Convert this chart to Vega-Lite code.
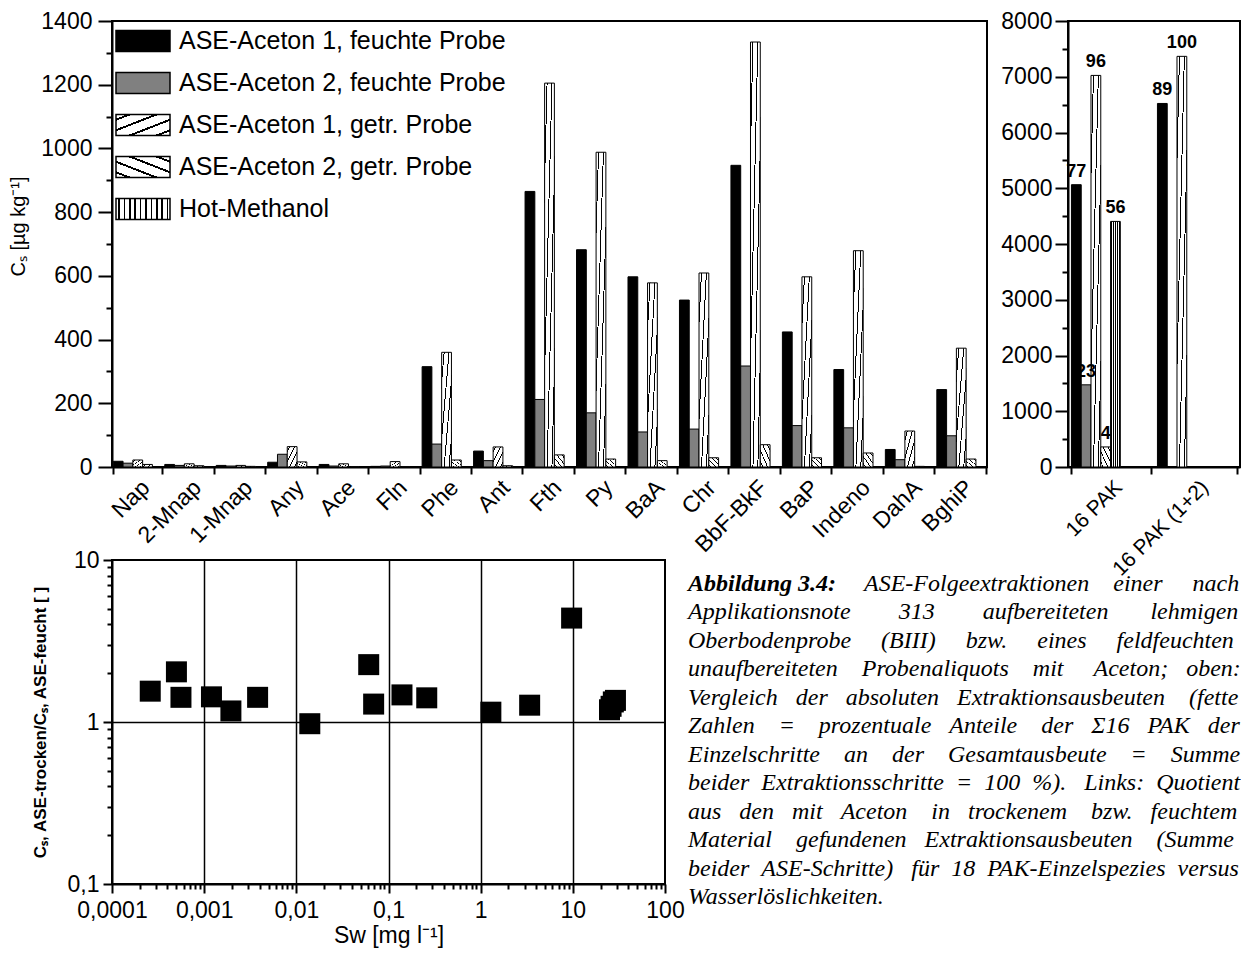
{
  "$schema": "https://vega.github.io/schema/vega-lite/v6.json",
  "autosize": {"type": "none"},
  "padding": {"left": 112, "top": 21, "right": 1129, "bottom": 934},
  "background": "white",
  "config": {
    "font": "Liberation Sans",
    "view": {"stroke": "black", "strokeWidth": 2},
    "axis": {"domainColor": "black", "domainWidth": 2, "tickColor": "black", "tickWidth": 2, "labelColor": "black", "labelFont": "Liberation Sans", "labelFontSize": 23, "titleColor": "black", "titleFont": "Liberation Sans", "grid": false, "labelFlush": false, "labelOverlap": false},
    "legend": {"symbolStrokeColor": "black", "symbolStrokeWidth": 1.5}
  },
  "datasets": {
    "bars": [
      {"cat": "Nap", "series": "ASE-Aceton 1, feuchte Probe", "value": 18},
      {"cat": "Nap", "series": "ASE-Aceton 2, feuchte Probe", "value": 12},
      {"cat": "Nap", "series": "ASE-Aceton 1, getr. Probe", "value": 22},
      {"cat": "Nap", "series": "ASE-Aceton 2, getr. Probe", "value": 8},
      {"cat": "2-Mnap", "series": "ASE-Aceton 1, feuchte Probe", "value": 8},
      {"cat": "2-Mnap", "series": "ASE-Aceton 2, feuchte Probe", "value": 5},
      {"cat": "2-Mnap", "series": "ASE-Aceton 1, getr. Probe", "value": 10},
      {"cat": "2-Mnap", "series": "ASE-Aceton 2, getr. Probe", "value": 4},
      {"cat": "1-Mnap", "series": "ASE-Aceton 1, feuchte Probe", "value": 5},
      {"cat": "1-Mnap", "series": "ASE-Aceton 2, feuchte Probe", "value": 3},
      {"cat": "1-Mnap", "series": "ASE-Aceton 1, getr. Probe", "value": 5},
      {"cat": "1-Mnap", "series": "ASE-Aceton 2, getr. Probe", "value": 2},
      {"cat": "Any", "series": "ASE-Aceton 1, feuchte Probe", "value": 15},
      {"cat": "Any", "series": "ASE-Aceton 2, feuchte Probe", "value": 40},
      {"cat": "Any", "series": "ASE-Aceton 1, getr. Probe", "value": 64},
      {"cat": "Any", "series": "ASE-Aceton 2, getr. Probe", "value": 16},
      {"cat": "Ace", "series": "ASE-Aceton 1, feuchte Probe", "value": 8},
      {"cat": "Ace", "series": "ASE-Aceton 2, feuchte Probe", "value": 3},
      {"cat": "Ace", "series": "ASE-Aceton 1, getr. Probe", "value": 10},
      {"cat": "Ace", "series": "ASE-Aceton 2, getr. Probe", "value": 1},
      {"cat": "Fln", "series": "ASE-Aceton 1, feuchte Probe", "value": 2},
      {"cat": "Fln", "series": "ASE-Aceton 2, feuchte Probe", "value": 3},
      {"cat": "Fln", "series": "ASE-Aceton 1, getr. Probe", "value": 17},
      {"cat": "Fln", "series": "ASE-Aceton 2, getr. Probe", "value": 1},
      {"cat": "Phe", "series": "ASE-Aceton 1, feuchte Probe", "value": 315},
      {"cat": "Phe", "series": "ASE-Aceton 2, feuchte Probe", "value": 72},
      {"cat": "Phe", "series": "ASE-Aceton 1, getr. Probe", "value": 360},
      {"cat": "Phe", "series": "ASE-Aceton 2, getr. Probe", "value": 22},
      {"cat": "Ant", "series": "ASE-Aceton 1, feuchte Probe", "value": 50},
      {"cat": "Ant", "series": "ASE-Aceton 2, feuchte Probe", "value": 20},
      {"cat": "Ant", "series": "ASE-Aceton 1, getr. Probe", "value": 63},
      {"cat": "Ant", "series": "ASE-Aceton 2, getr. Probe", "value": 4},
      {"cat": "Fth", "series": "ASE-Aceton 1, feuchte Probe", "value": 865},
      {"cat": "Fth", "series": "ASE-Aceton 2, feuchte Probe", "value": 212},
      {"cat": "Fth", "series": "ASE-Aceton 1, getr. Probe", "value": 1205},
      {"cat": "Fth", "series": "ASE-Aceton 2, getr. Probe", "value": 38},
      {"cat": "Py", "series": "ASE-Aceton 1, feuchte Probe", "value": 682},
      {"cat": "Py", "series": "ASE-Aceton 2, feuchte Probe", "value": 170},
      {"cat": "Py", "series": "ASE-Aceton 1, getr. Probe", "value": 988},
      {"cat": "Py", "series": "ASE-Aceton 2, getr. Probe", "value": 25},
      {"cat": "BaA", "series": "ASE-Aceton 1, feuchte Probe", "value": 597},
      {"cat": "BaA", "series": "ASE-Aceton 2, feuchte Probe", "value": 110},
      {"cat": "BaA", "series": "ASE-Aceton 1, getr. Probe", "value": 578},
      {"cat": "BaA", "series": "ASE-Aceton 2, getr. Probe", "value": 20},
      {"cat": "Chr", "series": "ASE-Aceton 1, feuchte Probe", "value": 524},
      {"cat": "Chr", "series": "ASE-Aceton 2, feuchte Probe", "value": 119},
      {"cat": "Chr", "series": "ASE-Aceton 1, getr. Probe", "value": 609},
      {"cat": "Chr", "series": "ASE-Aceton 2, getr. Probe", "value": 29},
      {"cat": "BbF-BkF", "series": "ASE-Aceton 1, feuchte Probe", "value": 947},
      {"cat": "BbF-BkF", "series": "ASE-Aceton 2, feuchte Probe", "value": 317},
      {"cat": "BbF-BkF", "series": "ASE-Aceton 1, getr. Probe", "value": 1334},
      {"cat": "BbF-BkF", "series": "ASE-Aceton 2, getr. Probe", "value": 70},
      {"cat": "BaP", "series": "ASE-Aceton 1, feuchte Probe", "value": 424},
      {"cat": "BaP", "series": "ASE-Aceton 2, feuchte Probe", "value": 130},
      {"cat": "BaP", "series": "ASE-Aceton 1, getr. Probe", "value": 597},
      {"cat": "BaP", "series": "ASE-Aceton 2, getr. Probe", "value": 29},
      {"cat": "Indeno", "series": "ASE-Aceton 1, feuchte Probe", "value": 306},
      {"cat": "Indeno", "series": "ASE-Aceton 2, feuchte Probe", "value": 123},
      {"cat": "Indeno", "series": "ASE-Aceton 1, getr. Probe", "value": 679},
      {"cat": "Indeno", "series": "ASE-Aceton 2, getr. Probe", "value": 44},
      {"cat": "DahA", "series": "ASE-Aceton 1, feuchte Probe", "value": 55},
      {"cat": "DahA", "series": "ASE-Aceton 2, feuchte Probe", "value": 23},
      {"cat": "DahA", "series": "ASE-Aceton 1, getr. Probe", "value": 113},
      {"cat": "DahA", "series": "ASE-Aceton 2, getr. Probe", "value": 2},
      {"cat": "BghiP", "series": "ASE-Aceton 1, feuchte Probe", "value": 243},
      {"cat": "BghiP", "series": "ASE-Aceton 2, feuchte Probe", "value": 98},
      {"cat": "BghiP", "series": "ASE-Aceton 1, getr. Probe", "value": 373},
      {"cat": "BghiP", "series": "ASE-Aceton 2, getr. Probe", "value": 25}
    ],
    "totals": [
      {"group": "16 PAK", "series": "ASE-Aceton 1, feuchte Probe", "value": 5064, "pct": 77},
      {"group": "16 PAK", "series": "ASE-Aceton 2, feuchte Probe", "value": 1474, "pct": 23},
      {"group": "16 PAK", "series": "ASE-Aceton 1, getr. Probe", "value": 7024, "pct": 96},
      {"group": "16 PAK", "series": "ASE-Aceton 2, getr. Probe", "value": 360, "pct": 4},
      {"group": "16 PAK", "series": "Hot-Methanol", "value": 4405, "pct": 56},
      {"group": "16 PAK (1+2)", "series": "ASE-Aceton 1, feuchte Probe", "value": 6521, "pct": 89},
      {"group": "16 PAK (1+2)", "series": "ASE-Aceton 1, getr. Probe", "value": 7366, "pct": 100}
    ],
    "ratio": [
      {"sw": 0.00026, "r": 1.55},
      {"sw": 0.0005, "r": 2.04},
      {"sw": 0.00056, "r": 1.42},
      {"sw": 0.0012, "r": 1.43},
      {"sw": 0.00195, "r": 1.17},
      {"sw": 0.0038, "r": 1.42},
      {"sw": 0.014, "r": 0.976},
      {"sw": 0.061, "r": 2.26},
      {"sw": 0.069, "r": 1.29},
      {"sw": 0.14, "r": 1.47},
      {"sw": 0.26, "r": 1.41},
      {"sw": 1.29, "r": 1.15},
      {"sw": 3.4, "r": 1.27},
      {"sw": 9.7, "r": 4.38},
      {"sw": 25, "r": 1.19},
      {"sw": 26, "r": 1.25},
      {"sw": 27.5, "r": 1.33},
      {"sw": 29, "r": 1.36}
    ],
    "caption": [
      {"line": 1, "bold": "Abbildung 3.4:", "rest": "ASE-Folgeextraktionen\u00a0\u00a0\u00a0\u00a0einer\u00a0\u00a0\u00a0\u00a0\u00a0nach"},
      {"line": 2, "text": "Applikationsnote\u00a0\u00a0\u00a0\u00a0\u00a0\u00a0\u00a0\u00a0313\u00a0\u00a0\u00a0\u00a0\u00a0\u00a0\u00a0\u00a0aufbereiteten\u00a0\u00a0\u00a0\u00a0\u00a0\u00a0\u00a0lehmigen"},
      {"line": 3, "text": "Oberbodenprobe\u00a0\u00a0\u00a0\u00a0\u00a0(BIII)\u00a0\u00a0\u00a0\u00a0\u00a0bzw.\u00a0\u00a0\u00a0\u00a0\u00a0eines\u00a0\u00a0\u00a0\u00a0\u00a0feldfeuchten"},
      {"line": 4, "text": "unaufbereiteten\u00a0\u00a0\u00a0\u00a0Probenaliquots\u00a0\u00a0\u00a0\u00a0mit\u00a0\u00a0\u00a0\u00a0\u00a0Aceton;\u00a0\u00a0\u00a0oben:"},
      {"line": 5, "text": "Vergleich\u00a0\u00a0\u00a0der\u00a0\u00a0\u00a0absoluten\u00a0\u00a0\u00a0Extraktionsausbeuten\u00a0\u00a0\u00a0\u00a0(fette"},
      {"line": 6, "text": "Zahlen\u00a0\u00a0\u00a0\u00a0=\u00a0\u00a0\u00a0\u00a0prozentuale\u00a0\u00a0\u00a0Anteile\u00a0\u00a0\u00a0\u00a0der\u00a0\u00a0\u00a0Σ16\u00a0\u00a0\u00a0PAK\u00a0\u00a0\u00a0der"},
      {"line": 7, "text": "Einzelschritte\u00a0\u00a0\u00a0\u00a0an\u00a0\u00a0\u00a0\u00a0der\u00a0\u00a0\u00a0\u00a0Gesamtausbeute\u00a0\u00a0\u00a0\u00a0=\u00a0\u00a0\u00a0\u00a0Summe"},
      {"line": 8, "text": "beider\u00a0\u00a0Extraktionsschritte\u00a0\u00a0=\u00a0\u00a0100\u00a0\u00a0%).\u00a0\u00a0\u00a0Links:\u00a0\u00a0Quotient"},
      {"line": 9, "text": "aus\u00a0\u00a0\u00a0den\u00a0\u00a0\u00a0mit\u00a0\u00a0\u00a0Aceton\u00a0\u00a0\u00a0\u00a0in\u00a0\u00a0\u00a0trockenem\u00a0\u00a0\u00a0\u00a0bzw.\u00a0\u00a0\u00a0feuchtem"},
      {"line": 10, "text": "Material\u00a0\u00a0\u00a0\u00a0gefundenen\u00a0\u00a0\u00a0Extraktionsausbeuten\u00a0\u00a0\u00a0\u00a0(Summe"},
      {"line": 11, "text": "beider\u00a0\u00a0ASE-Schritte)\u00a0\u00a0\u00a0für\u00a0\u00a018\u00a0\u00a0PAK-Einzelspezies\u00a0\u00a0versus"},
      {"line": 12, "text": "Wasserlöslichkeiten."}
    ]
  },
  "columns": 2,
  "align": "none",
  "bounds": "flush",
  "spacing": {"row": 93, "column": 81},
  "resolve": {"scale": {"fill": "independent"}, "legend": {"fill": "independent"}},
  "concat": [
    {
      "width": 875,
      "height": 446,
      "data": {"name": "bars"},
      "mark": {"type": "bar", "stroke": "black", "strokeWidth": 1},
      "encoding": {
        "x": {
          "field": "cat", "type": "nominal",
          "sort": ["Nap", "2-Mnap", "1-Mnap", "Any", "Ace", "Fln", "Phe", "Ant", "Fth", "Py", "BaA", "Chr", "BbF-BkF", "BaP", "Indeno", "DahA", "BghiP"],
          "scale": {"paddingInner": 0.05, "paddingOuter": 0.025},
          "axis": {"title": null, "tickBand": "extent", "labelAngle": -45, "labelAlign": "right", "labelBaseline": "top", "tickSize": 7, "labelPadding": 2}
        },
        "xOffset": {
          "field": "series", "type": "nominal",
          "scale": {"domain": ["ASE-Aceton 1, feuchte Probe", "ASE-Aceton 2, feuchte Probe", "ASE-Aceton 1, getr. Probe", "ASE-Aceton 2, getr. Probe"]}
        },
        "y": {
          "field": "value", "type": "quantitative",
          "scale": {"domain": [0, 1400], "nice": false},
          "axis": {
            "title": "Cₛ [µg kg⁻¹]", "titleFontSize": 20, "titleFontWeight": "normal", "titlePadding": 12, "titleY": 205,
            "values": [0, 100, 200, 300, 400, 500, 600, 700, 800, 900, 1000, 1100, 1200, 1300, 1400],
            "format": "d",
            "labelExpr": "datum.value % 200 === 0 ? datum.label : ''",
            "tickSize": {"condition": {"test": "datum.value % 200 === 0", "value": 14}, "value": 6},
            "labelPadding": 6
          }
        },
        "fill": {
          "field": "series", "type": "nominal",
          "scale": {
            "domain": ["ASE-Aceton 1, feuchte Probe", "ASE-Aceton 2, feuchte Probe", "ASE-Aceton 1, getr. Probe", "ASE-Aceton 2, getr. Probe", "Hot-Methanol"],
            "range": [
              "black",
              "#808080",
              {"expr": "{gradient: 'linear', x1: 0, y1: 0, x2: 1, y2: 1, stops: [{offset: 0, color: 'white'}, {offset: 0.1, color: 'white'}, {offset: 0.1, color: 'black'}, {offset: 0.15, color: 'black'}, {offset: 0.15, color: 'white'}, {offset: 0.35, color: 'white'}, {offset: 0.35, color: 'black'}, {offset: 0.4, color: 'black'}, {offset: 0.4, color: 'white'}, {offset: 0.6, color: 'white'}, {offset: 0.6, color: 'black'}, {offset: 0.65, color: 'black'}, {offset: 0.65, color: 'white'}, {offset: 0.85, color: 'white'}, {offset: 0.85, color: 'black'}, {offset: 0.9, color: 'black'}, {offset: 0.9, color: 'white'}, {offset: 1, color: 'white'}]}"},
              {"expr": "{gradient: 'linear', x1: 0, y1: 1, x2: 1, y2: 0, stops: [{offset: 0, color: 'white'}, {offset: 0.1, color: 'white'}, {offset: 0.1, color: 'black'}, {offset: 0.15, color: 'black'}, {offset: 0.15, color: 'white'}, {offset: 0.35, color: 'white'}, {offset: 0.35, color: 'black'}, {offset: 0.4, color: 'black'}, {offset: 0.4, color: 'white'}, {offset: 0.6, color: 'white'}, {offset: 0.6, color: 'black'}, {offset: 0.65, color: 'black'}, {offset: 0.65, color: 'white'}, {offset: 0.85, color: 'white'}, {offset: 0.85, color: 'black'}, {offset: 0.9, color: 'black'}, {offset: 0.9, color: 'white'}, {offset: 1, color: 'white'}]}"},
              {"expr": "{gradient: 'linear', x1: 0, y1: 0, x2: 1, y2: 0, stops: [{offset: 0, color: 'white'}, {offset: 0.04, color: 'white'}, {offset: 0.04, color: 'black'}, {offset: 0.07, color: 'black'}, {offset: 0.07, color: 'white'}, {offset: 0.14, color: 'white'}, {offset: 0.14, color: 'black'}, {offset: 0.17, color: 'black'}, {offset: 0.17, color: 'white'}, {offset: 0.24, color: 'white'}, {offset: 0.24, color: 'black'}, {offset: 0.27, color: 'black'}, {offset: 0.27, color: 'white'}, {offset: 0.34, color: 'white'}, {offset: 0.34, color: 'black'}, {offset: 0.37, color: 'black'}, {offset: 0.37, color: 'white'}, {offset: 0.44, color: 'white'}, {offset: 0.44, color: 'black'}, {offset: 0.47, color: 'black'}, {offset: 0.47, color: 'white'}, {offset: 0.54, color: 'white'}, {offset: 0.54, color: 'black'}, {offset: 0.57, color: 'black'}, {offset: 0.57, color: 'white'}, {offset: 0.64, color: 'white'}, {offset: 0.64, color: 'black'}, {offset: 0.67, color: 'black'}, {offset: 0.67, color: 'white'}, {offset: 0.74, color: 'white'}, {offset: 0.74, color: 'black'}, {offset: 0.77, color: 'black'}, {offset: 0.77, color: 'white'}, {offset: 0.84, color: 'white'}, {offset: 0.84, color: 'black'}, {offset: 0.87, color: 'black'}, {offset: 0.87, color: 'white'}, {offset: 0.94, color: 'white'}, {offset: 0.94, color: 'black'}, {offset: 0.97, color: 'black'}, {offset: 0.97, color: 'white'}, {offset: 1, color: 'white'}]}"}
            ]
          },
          "legend": {
            "title": null, "orient": "none", "legendX": 3, "legendY": -8, "padding": 0,
            "symbolType": "M-1,-0.39H1V0.39H-1Z", "symbolSize": 2916,
            "symbolStrokeColor": "black", "symbolStrokeWidth": 1.5, "symbolOpacity": 1,
            "labelFont": "Liberation Sans", "labelFontSize": 25, "labelColor": "black", "labelOffset": 8, "labelLimit": 600,
            "rowPadding": -22
          }
        }
      }
    },
    {
      "width": 172,
      "height": 446,
      "data": {"name": "totals"},
      "encoding": {
        "x": {
          "field": "group", "type": "nominal", "sort": ["16 PAK", "16 PAK (1+2)"],
          "scale": {"paddingInner": 0.08, "paddingOuter": 0.04},
          "axis": {"title": null, "tickBand": "extent", "labelAngle": -45, "labelAlign": "right", "labelBaseline": "top", "tickSize": 7, "labelPadding": 2, "labelFontSize": 21}
        },
        "xOffset": {
          "field": "series", "type": "nominal",
          "scale": {"domain": ["ASE-Aceton 1, feuchte Probe", "ASE-Aceton 2, feuchte Probe", "ASE-Aceton 1, getr. Probe", "ASE-Aceton 2, getr. Probe", "Hot-Methanol"]}
        },
        "y": {
          "field": "value", "type": "quantitative",
          "scale": {"domain": [0, 8000], "nice": false},
          "axis": {
            "title": null,
            "values": [0, 500, 1000, 1500, 2000, 2500, 3000, 3500, 4000, 4500, 5000, 5500, 6000, 6500, 7000, 7500, 8000],
            "format": "d",
            "labelExpr": "datum.value % 1000 === 0 ? datum.label : ''",
            "tickSize": {"condition": {"test": "datum.value % 1000 === 0", "value": 13}, "value": 6},
            "labelPadding": 3
          }
        }
      },
      "layer": [
        {
          "mark": {"type": "bar", "stroke": "black", "strokeWidth": 1},
          "encoding": {
            "fill": {
              "condition": [
                {"test": "datum.series === 'ASE-Aceton 2, feuchte Probe'", "value": "#808080"},
                {"test": "datum.series === 'ASE-Aceton 1, getr. Probe'", "value": {"gradient": "linear", "x1": 0, "y1": 0, "x2": 1, "y2": 1, "stops": [
                    {"offset": 0, "color": "white"}, {"offset": 0.1, "color": "white"}, {"offset": 0.1, "color": "black"}, {"offset": 0.15, "color": "black"}, {"offset": 0.15, "color": "white"},
                    {"offset": 0.35, "color": "white"}, {"offset": 0.35, "color": "black"}, {"offset": 0.4, "color": "black"}, {"offset": 0.4, "color": "white"},
                    {"offset": 0.6, "color": "white"}, {"offset": 0.6, "color": "black"}, {"offset": 0.65, "color": "black"}, {"offset": 0.65, "color": "white"},
                    {"offset": 0.85, "color": "white"}, {"offset": 0.85, "color": "black"}, {"offset": 0.9, "color": "black"}, {"offset": 0.9, "color": "white"}, {"offset": 1, "color": "white"}]}},
                {"test": "datum.series === 'ASE-Aceton 2, getr. Probe'", "value": {"gradient": "linear", "x1": 0, "y1": 1, "x2": 1, "y2": 0, "stops": [
                    {"offset": 0, "color": "white"}, {"offset": 0.1, "color": "white"}, {"offset": 0.1, "color": "black"}, {"offset": 0.15, "color": "black"}, {"offset": 0.15, "color": "white"},
                    {"offset": 0.35, "color": "white"}, {"offset": 0.35, "color": "black"}, {"offset": 0.4, "color": "black"}, {"offset": 0.4, "color": "white"},
                    {"offset": 0.6, "color": "white"}, {"offset": 0.6, "color": "black"}, {"offset": 0.65, "color": "black"}, {"offset": 0.65, "color": "white"},
                    {"offset": 0.85, "color": "white"}, {"offset": 0.85, "color": "black"}, {"offset": 0.9, "color": "black"}, {"offset": 0.9, "color": "white"}, {"offset": 1, "color": "white"}]}},
                {"test": "datum.series === 'Hot-Methanol'", "value": {"gradient": "linear", "x1": 0, "y1": 0, "x2": 1, "y2": 0, "stops": [
                    {"offset": 0, "color": "white"}, {"offset": 0.065, "color": "white"}, {"offset": 0.065, "color": "black"}, {"offset": 0.135, "color": "black"}, {"offset": 0.135, "color": "white"},
                    {"offset": 0.265, "color": "white"}, {"offset": 0.265, "color": "black"}, {"offset": 0.335, "color": "black"}, {"offset": 0.335, "color": "white"},
                    {"offset": 0.465, "color": "white"}, {"offset": 0.465, "color": "black"}, {"offset": 0.535, "color": "black"}, {"offset": 0.535, "color": "white"},
                    {"offset": 0.665, "color": "white"}, {"offset": 0.665, "color": "black"}, {"offset": 0.735, "color": "black"}, {"offset": 0.735, "color": "white"},
                    {"offset": 0.865, "color": "white"}, {"offset": 0.865, "color": "black"}, {"offset": 0.935, "color": "black"}, {"offset": 0.935, "color": "white"}, {"offset": 1, "color": "white"}]}}
              ],
              "value": "black"
            }
          }
        },
        {
          "mark": {"type": "text", "baseline": "bottom", "dy": -4, "fontWeight": "bold", "fontSize": 18, "font": "Liberation Sans", "color": "black"},
          "encoding": {"text": {"field": "pct", "type": "quantitative"}}
        }
      ]
    },
    {
      "width": 553,
      "height": 324,
      "data": {"name": "ratio"},
      "mark": {"type": "point", "shape": "square", "filled": true, "size": 441, "color": "black", "opacity": 1},
      "encoding": {
        "x": {
          "field": "sw", "type": "quantitative",
          "scale": {"type": "log", "domain": [0.0001, 100], "nice": false},
          "axis": {
            "title": "Sw [mg l⁻¹]", "titleFontSize": 23, "titleFontWeight": "normal", "titlePadding": 2,
            "values": [0.0001, 0.0002, 0.0003, 0.0004, 0.0005, 0.0006, 0.0007, 0.0008, 0.0009, 0.001, 0.002, 0.003, 0.004, 0.005, 0.006, 0.007, 0.008, 0.009, 0.01, 0.02, 0.03, 0.04, 0.05, 0.06, 0.07, 0.08, 0.09, 0.1, 0.2, 0.3, 0.4, 0.5, 0.6, 0.7, 0.8, 0.9, 1, 2, 3, 4, 5, 6, 7, 8, 9, 10, 20, 30, 40, 50, 60, 70, 80, 90, 100],
            "labelExpr": "indexof([0.0001, 0.001, 0.01, 0.1, 1, 10, 100], datum.value) >= 0 ? replace(toString(datum.value), '.', ',') : ''",
            "tickSize": {"condition": {"test": "indexof([0.0001, 0.001, 0.01, 0.1, 1, 10, 100], datum.value) >= 0", "value": 9}, "value": 5},
            "labelPadding": 6,
            "grid": true, "gridColor": "black", "gridWidth": 1.5,
            "gridOpacity": {"condition": {"test": "indexof([0.001, 0.01, 0.1, 1, 10], datum.value) >= 0", "value": 1}, "value": 0}
          }
        },
        "y": {
          "field": "r", "type": "quantitative",
          "scale": {"type": "log", "domain": [0.1, 10], "nice": false},
          "axis": {
            "title": "Cₛ, ASE-trocken/Cₛ, ASE-feucht [ ]", "titleFontSize": 17, "titleFontWeight": "bold", "titlePadding": 18,
            "values": [0.1, 0.2, 0.3, 0.4, 0.5, 0.6, 0.7, 0.8, 0.9, 1, 2, 3, 4, 5, 6, 7, 8, 9, 10],
            "labelExpr": "indexof([0.1, 1, 10], datum.value) >= 0 ? replace(toString(datum.value), '.', ',') : ''",
            "tickSize": {"condition": {"test": "indexof([0.1, 1, 10], datum.value) >= 0", "value": 9}, "value": 5},
            "labelPadding": 4,
            "grid": true, "gridColor": "black", "gridWidth": 1.5,
            "gridOpacity": {"condition": {"test": "datum.value === 1", "value": 1}, "value": 0}
          }
        }
      }
    },
    {
      "width": 553,
      "height": 350,
      "view": {"stroke": null},
      "data": {"name": "caption"},
      "encoding": {
        "y": {"field": "line", "type": "ordinal", "scale": {"type": "point", "padding": 0, "range": [30.5, 344]}, "axis": null}
      },
      "layer": [
        {
          "transform": [{"filter": "isValid(datum.text)"}],
          "mark": {"type": "text", "align": "left", "baseline": "alphabetic", "font": "Liberation Serif", "fontStyle": "italic", "fontSize": 24, "color": "black"},
          "encoding": {"x": {"value": -380}, "text": {"field": "text"}}
        },
        {
          "transform": [{"filter": "isValid(datum.rest)"}],
          "mark": {"type": "text", "align": "left", "baseline": "alphabetic", "font": "Liberation Serif", "fontStyle": "italic", "fontSize": 24, "color": "black", "dx": 176},
          "encoding": {"x": {"value": -380}, "text": {"field": "rest"}}
        },
        {
          "transform": [{"filter": "isValid(datum.bold)"}],
          "mark": {"type": "text", "align": "left", "baseline": "alphabetic", "font": "Liberation Serif", "fontStyle": "italic", "fontWeight": "bold", "fontSize": 24, "color": "black"},
          "encoding": {"x": {"value": -380}, "text": {"field": "bold"}}
        }
      ]
    }
  ]
}
